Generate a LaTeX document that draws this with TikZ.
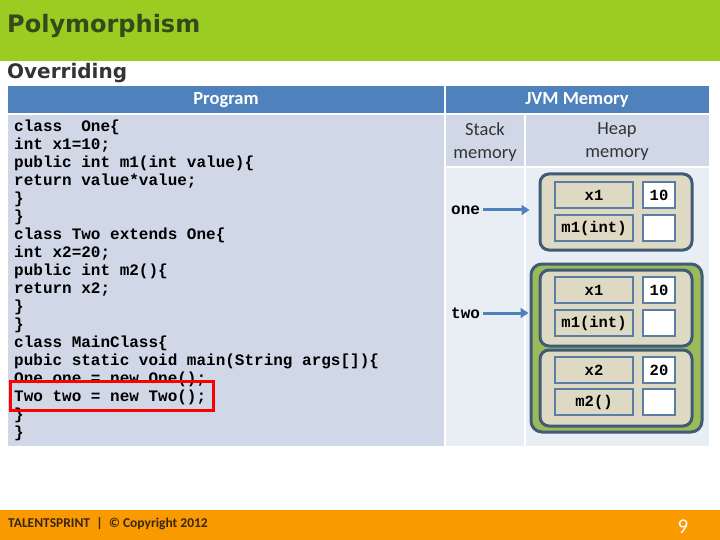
\documentclass[tikz,border=0pt]{standalone}
\usepackage{fontspec}
\setmainfont{DejaVu Sans}
\setmonofont{Liberation Mono}
\newfontfamily\calfont{Carlito}
\usetikzlibrary{arrows.meta,positioning}

\definecolor{bandgreen}{HTML}{9ACC22}
\definecolor{titlegreen}{HTML}{35491A}
\definecolor{hdrblue}{HTML}{4F81BD}
\definecolor{progbg}{HTML}{D0D8E8}
\definecolor{stackbg}{HTML}{E9EDF4}
\definecolor{tan}{HTML}{DDD9C3}
\definecolor{celledge}{HTML}{5A7DA6}
\definecolor{objedge}{HTML}{3F5B78}
\definecolor{objgreen}{HTML}{9BBB59}
\definecolor{footorange}{HTML}{F99A00}

\begin{document}
\begin{tikzpicture}[x=1pt, y=-1pt,
    every node/.style={inner sep=0pt},
    hdr/.style={font=\calfont\fontsize{18.5}{18.5}\selectfont\bfseries, text=white},
    sub/.style={font=\calfont\fontsize{18.5}{23}\selectfont, text=black!80, align=center},
    codeline/.style={anchor=base west, font=\ttfamily\bfseries\fontsize{16}{18}\selectfont},
    objbox/.style={draw=objedge, line width=3pt, rounded corners=9pt, fill=tan,
        minimum width=152pt, minimum height=76pt},
    memcell/.style={draw=celledge, line width=2.5pt, fill=tan, minimum width=78pt, minimum height=26pt,
        font=\ttfamily\bfseries\fontsize{15.5}{15.5}\selectfont},
    valcell/.style={draw=celledge, line width=2.5pt, fill=white, minimum width=32pt, minimum height=26pt,
        font=\ttfamily\bfseries\fontsize{15.5}{15.5}\selectfont},
    ref/.style={draw=hdrblue, line width=3pt, -{Triangle[length=8pt,width=10pt]}}]
  \useasboundingbox (0,0) rectangle (720,540);
  % bands
  \fill[bandgreen] (0,0) rectangle (720,61);
  \fill[footorange] (0,510) rectangle (720,540);
  \node[anchor=west, font=\fontsize{24}{24}\selectfont\bfseries, text=titlegreen] (title) at (7,26) {Polymorphism};
  \node[anchor=west, font=\fontsize{20}{20}\selectfont\bfseries, text=black!80] (subtitle) at (7,73) {Overriding};

  % table
  \fill[hdrblue] (8,86) rectangle (444,113);
  \fill[hdrblue] (446,86) rectangle (709,113);
  \fill[progbg] (8,115) rectangle (444,446);
  \fill[progbg] (446,115) rectangle (524,166);
  \fill[progbg] (526,115) rectangle (709,166);
  \fill[stackbg] (446,168) rectangle (524,446);
  \fill[stackbg] (526,168) rectangle (709,446);
  \node[hdr] (progHead) at (226,100) {Program};
  \node[hdr] (jvmHead) at (577,100) {JVM Memory};
  \node[sub] (stackHead) at (485,142) {Stack\\memory};
  \node[sub] (heapHead) at (617,142) {Heap\\memory};

  % program text
  \foreach \ln [count=\i] in {{class\ \ One\{}, {int x1=10;}, {public int m1(int value)\{},
      {return value*value;}, {\}}, {\}}, {class Two extends One\{}, {int x2=20;},
      {public int m2()\{}, {return x2;}, {\}}, {\}}, {class MainClass\{},
      {pubic static void main(String args[])\{}, {One one = new One();},
      {Two two = new Two();}, {\}}, {\}}}
    \node[codeline] (l\i) at (14,131.5+18*\i-18) {\ln};
  \draw[red, line width=3pt] (10,381) rectangle (213,410);

  % heap objects
  \node[objbox] (objOne) at (616,212) {};
  \node[objbox, fill=objgreen, minimum width=171pt, minimum height=168pt, rounded corners=11pt] (objTwo) at (616.5,348) {};
  \node[objbox] (objTwoA) at (616,308) {};
  \node[objbox] (objTwoB) at (616,388) {};
  \foreach \id/\lab/\val/\yy in {a1/x1/10/195, a2/{m1(int)}/{}/228, b1/x1/10/290,
      b2/{m1(int)}/{}/323, b3/x2/20/370, b4/{m2()}/{}/402} {
    \node[memcell] (c\id) at (594,\yy) {\lab};
    \node[valcell] (v\id) at (659,\yy) {\val};
  }

  % stack references
  \node[anchor=west, font=\ttfamily\bfseries\fontsize{16}{16}\selectfont] (one) at (451,210) {one};
  \node[anchor=west, font=\ttfamily\bfseries\fontsize{16}{16}\selectfont] (two) at (451,313) {two};
  \draw[ref] ([xshift=3pt]one.east) -- ([xshift=-9pt]objOne.west |- one.east);
  \draw[ref] ([xshift=3pt]two.east) -- ([xshift=-1pt]objTwo.west |- two.east);

  % footer
  \node[anchor=west, font=\calfont\fontsize{13.5}{13.5}\selectfont\bfseries, text=black!70!brown] (copy) at (8,524) {TALENTSPRINT\ \ |\ \ \textcopyright\ Copyright 2012};
  \node[font=\calfont\fontsize{21}{21}\selectfont, text=white] (page) at (683,527) {9};
\end{tikzpicture}
\end{document}
